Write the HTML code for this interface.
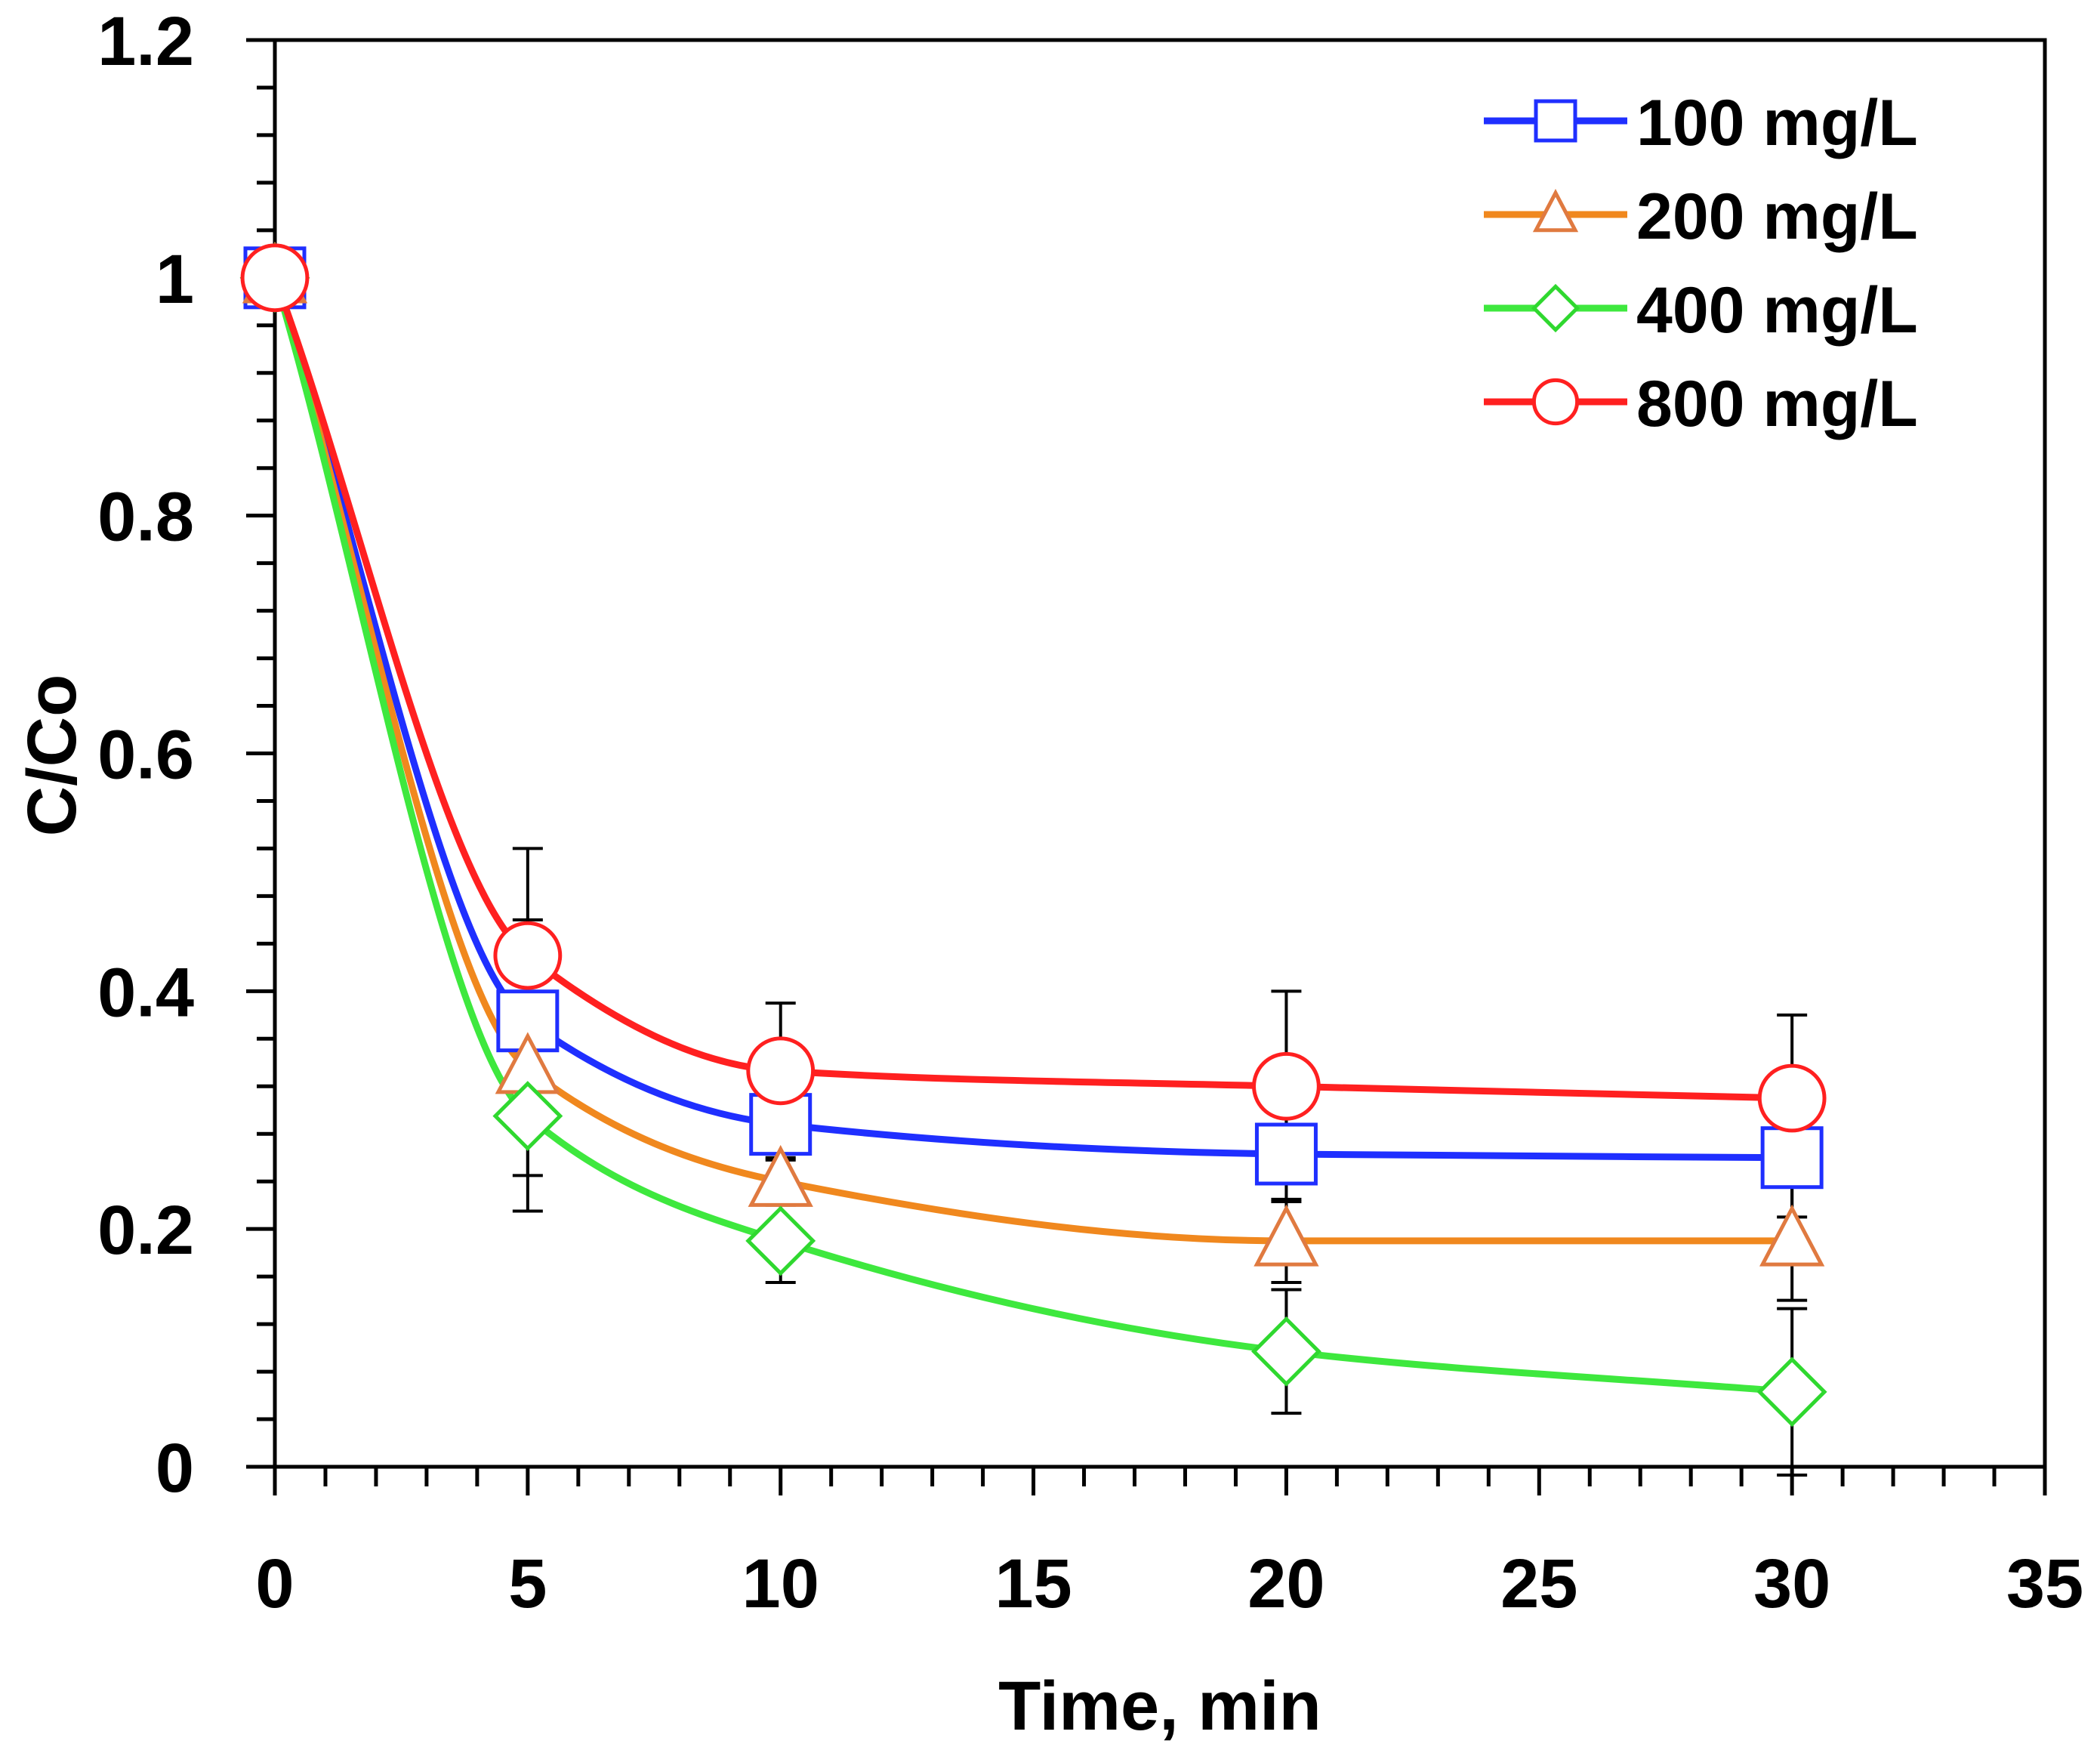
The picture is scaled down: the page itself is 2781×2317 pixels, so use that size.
<!DOCTYPE html>
<html><head><meta charset="utf-8"><style>html,body{margin:0;padding:0;background:#fff}svg{display:block}text{font-family:"Liberation Sans",sans-serif;font-weight:bold}</style></head>
<body>
<svg id="chart" width="2781" height="2317" viewBox="0 0 2781 2317" xmlns="http://www.w3.org/2000/svg">
<g id="grid"></g>
<g id="errs"></g>
<g id="lines"></g>
<g id="marks"></g>
<g id="legend"></g>
</svg>
<script>
const times = [0, 5, 10, 20, 30];
const s100 = [1, 0.375, 0.288, 0.263, 0.26];
const s200 = [1, 0.335, 0.24, 0.19, 0.19];
const s400 = [1, 0.295, 0.19, 0.097, 0.063];
const s800 = [1, 0.43, 0.333, 0.32, 0.31];
const e100 = [0, 0.085, 0.03, 0.04, 0.05];
const e200 = [0, 0.09, 0.02, 0.035, 0.05];
const e400 = [0, 0.08, 0.035, 0.052, 0.07];
const e800 = [0, 0.09, 0.057, 0.08, 0.07];
const seriesNames = ["100 mg/L", "200 mg/L", "400 mg/L", "800 mg/L"];
const xTicks = [0, 5, 10, 15, 20, 25, 30, 35];
const yTicks = [0, 0.2, 0.4, 0.6, 0.8, 1, 1.2];
const yTickLabels = ["0", "0.2", "0.4", "0.6", "0.8", "1", "1.2"];

const X0 = 364, X1 = 2708, Y0 = 1942, Y1 = 53;
const xs = v => X0 + (v / 35) * (X1 - X0);
const ys = v => Y0 - (v / 1.2) * (Y0 - Y1);
const NS = "http://www.w3.org/2000/svg";
function mk(tag, attrs, parent) { const e = document.createElementNS(NS, tag); for (const k in attrs) e.setAttribute(k, attrs[k]); parent.appendChild(e); return e; }
const grid = document.getElementById('grid');

const frame = mk('rect', {x: X0, y: Y1, width: X1 - X0, height: Y0 - Y1, fill: 'none', stroke: '#000', 'stroke-width': 5}, grid);



for (let v = 0; v <= 35; v += 1) {
  const maj = v % 5 === 0;
  const t = mk('line', {x1: xs(v), x2: xs(v), y1: Y0, y2: Y0 + (maj ? 38 : 26), stroke: '#000', 'stroke-width': 5}, grid);
  
  
}
for (let i = 0; i <= 30; i++) {
  const v = i * 0.04; const maj = i % 5 === 0;
  const t = mk('line', {x1: X0 - (maj ? 38 : 24), x2: X0, y1: ys(v), y2: ys(v), stroke: '#000', 'stroke-width': 5}, grid);
  
  
}
xTicks.forEach(v => {
  const t = mk('text', {x: xs(v), y: 2128, 'text-anchor': 'middle', 'font-size': 92}, grid);
  t.textContent = v;
  
  
});
yTicks.forEach((v, i) => {
  const t = mk('text', {x: 257, y: ys(v) + 33, 'text-anchor': 'end', 'font-size': 92}, grid);
  t.textContent = yTickLabels[i];
  
  
});
const xt = mk('text', {x: 1536, y: 2290, 'text-anchor': 'middle', 'font-size': 92}, grid);
xt.textContent = 'Time, min';


const yt = mk('text', {x: 0, y: 0, 'text-anchor': 'middle', 'font-size': 92, transform: 'translate(100,1000) rotate(-90)'}, grid);
yt.textContent = 'C/Co';



const series = [
  {vals: s100, errs: e100, color: '#1f2fff', stroke: '#1f2fff', shape: 'square', name: 'series-100'},
  {vals: s200, errs: e200, color: '#f0881e', stroke: '#e07a40', shape: 'triangle', name: 'series-200'},
  {vals: s400, errs: e400, color: '#3ee83e', stroke: '#2fd82f', shape: 'diamond', name: 'series-400'},
  {vals: s800, errs: e800, color: '#ff2020', stroke: '#ff2020', shape: 'circle', name: 'series-800'}
];
const errG = document.getElementById('errs'), lineG = document.getElementById('lines'), markG = document.getElementById('marks');

function spline(pts) {
  const n = pts.length, d = [], m = [];
  for (let i = 0; i < n - 1; i++) d.push((pts[i + 1][1] - pts[i][1]) / (pts[i + 1][0] - pts[i][0]));
  m[0] = d[0]; m[n - 1] = d[n - 2];
  for (let i = 1; i < n - 1; i++) {
    if (d[i - 1] * d[i] <= 0) m[i] = 0;
    else {
      const h0 = pts[i][0] - pts[i - 1][0], h1 = pts[i + 1][0] - pts[i][0];
      const w1 = 2 * h1 + h0, w2 = h1 + 2 * h0;
      m[i] = (w1 + w2) / (w1 / d[i - 1] + w2 / d[i]);
    }
  }
  let p = `M${pts[0][0]},${pts[0][1]}`;
  for (let i = 0; i < n - 1; i++) {
    const h = (pts[i + 1][0] - pts[i][0]) / 3;
    p += ` C${pts[i][0] + h},${pts[i][1] + m[i] * h} ${pts[i + 1][0] - h},${pts[i + 1][1] - m[i + 1] * h} ${pts[i + 1][0]},${pts[i + 1][1]}`;
  }
  return p;
}
function marker(shape, cx, cy, stroke, parent, r) {
  let e;
  if (shape === 'square') e = mk('rect', {x: cx - r, y: cy - r, width: 2 * r, height: 2 * r}, parent);
  else if (shape === 'circle') e = mk('circle', {cx, cy, r: r * 1.1}, parent);
  else if (shape === 'triangle') e = mk('polygon', {points: `${cx},${cy - r * 1.1} ${cx + r},${cy + r * 0.8} ${cx - r},${cy + r * 0.8}`}, parent);
  else e = mk('polygon', {points: `${cx},${cy - r * 1.1} ${cx + r * 1.1},${cy} ${cx},${cy + r * 1.1} ${cx - r * 1.1},${cy}`}, parent);
  e.setAttribute('fill', '#fff'); e.setAttribute('stroke', stroke); e.setAttribute('stroke-width', 5);
  return e;
}
series.forEach(s => {
  s.vals.forEach((v, i) => {
    if (!s.errs[i]) return;
    const g = mk('g', {stroke: '#000', 'stroke-width': 4}, errG);
    
    
    const x = xs(times[i]);
    mk('line', {x1: x, x2: x, y1: ys(v - s.errs[i]), y2: ys(v + s.errs[i])}, g);
    mk('line', {x1: x - 20, x2: x + 20, y1: ys(v - s.errs[i]), y2: ys(v - s.errs[i])}, g);
    mk('line', {x1: x - 20, x2: x + 20, y1: ys(v + s.errs[i]), y2: ys(v + s.errs[i])}, g);
  });
});
series.forEach(s => {
  const pts = s.vals.map((v, i) => [xs(times[i]), ys(v)]);
  const p = mk('path', {d: spline(pts), fill: 'none', stroke: s.color, 'stroke-width': 9}, lineG);
  
  
});
series.forEach(s => {
  s.vals.forEach((v, i) => {
    const m = marker(s.shape, xs(times[i]), ys(v), s.stroke, markG, 39);
    
    
  });
});
const leg = document.getElementById('legend');
const legRows = [160, 284, 408, 532];
series.forEach((s, i) => {
  const g = mk('g', {}, leg);
  
  
  mk('line', {x1: 1965, x2: 2155, y1: legRows[i], y2: legRows[i], stroke: s.color, 'stroke-width': 9}, g);
  marker(s.shape, 2060, legRows[i], s.stroke, g, 26);
  const t = mk('text', {x: 2167, y: legRows[i] + 32, 'font-size': 86}, g);
  t.textContent = seriesNames[i];
});
</script>
</body></html>
